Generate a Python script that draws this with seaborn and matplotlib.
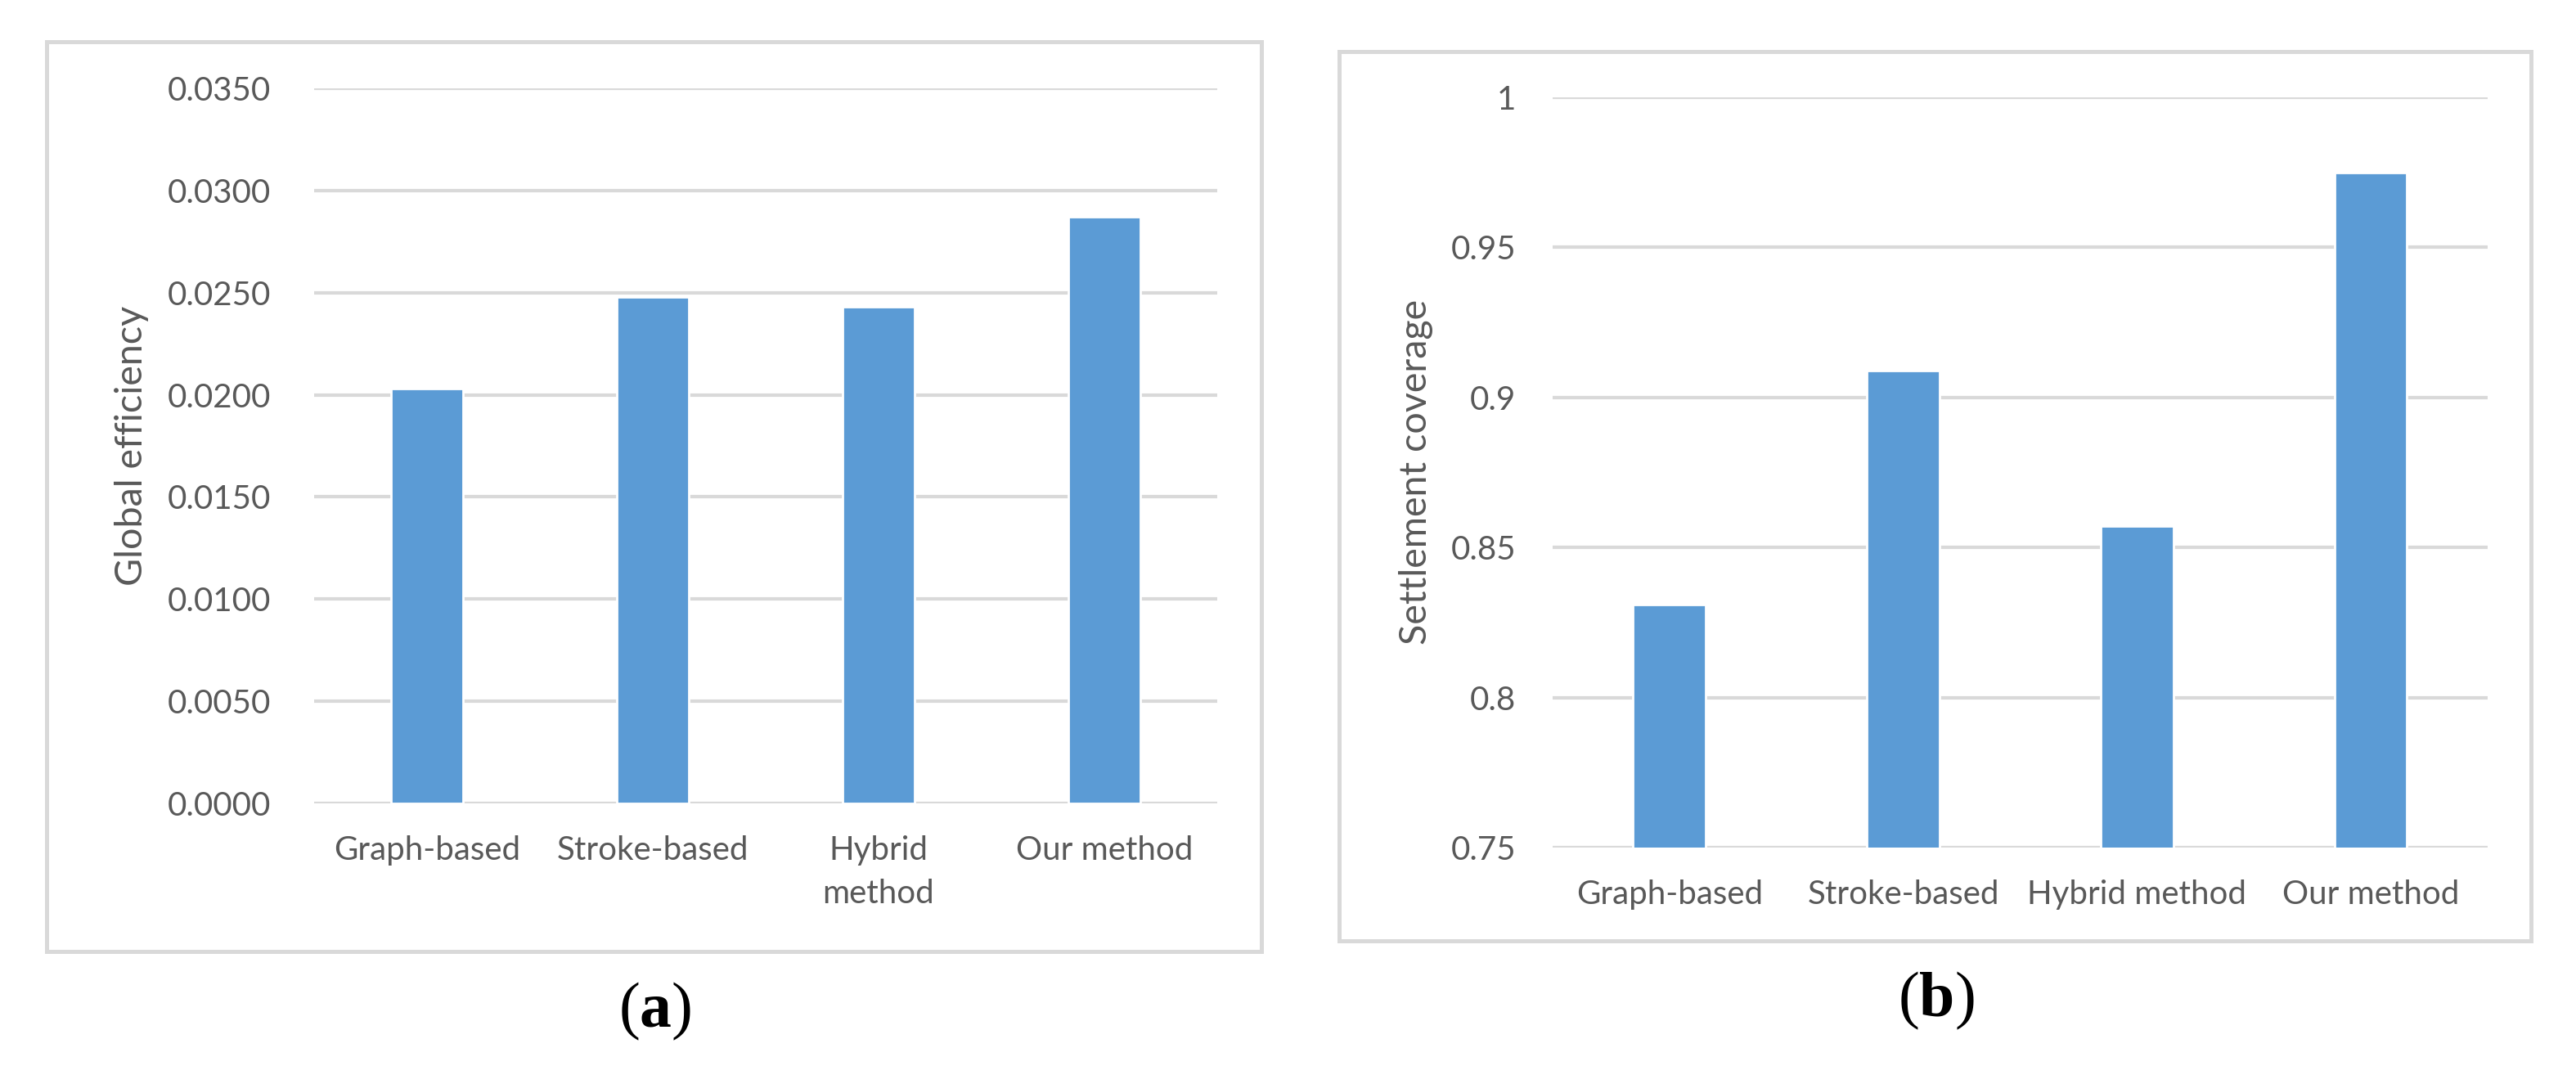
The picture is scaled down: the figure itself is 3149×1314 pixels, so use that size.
import matplotlib
matplotlib.use("Agg")
from matplotlib import pyplot as plt
from matplotlib.patches import Rectangle
import seaborn as sns
import pandas as pd

# data
methods_a = ["Graph-based", "Stroke-based", "Hybrid\nmethod", "Our method"]
global_efficiency = [0.0203, 0.0248, 0.0243, 0.0287]
ticks_a = [0.0, 0.005, 0.010, 0.015, 0.020, 0.025, 0.030, 0.035]

methods_b = ["Graph-based", "Stroke-based", "Hybrid method", "Our method"]
settlement_coverage = [0.831, 0.909, 0.857, 0.975]
ticks_b = [0.75, 0.80, 0.85, 0.90, 0.95, 1.0]
tick_labels_b = ["0.75", "0.8", "0.85", "0.9", "0.95", "1"]

bar_color = "#5B9BD5"
grid_color = "#D9D9D9"
text_color = "#595959"

sns.set_theme(style="white")
plt.rcParams['font.family'] = ['Lato', 'DejaVu Sans']
plt.rcParams['mathtext.fontset'] = 'custom'
plt.rcParams['mathtext.rm'] = 'Liberation Serif'
plt.rcParams['mathtext.bf'] = 'Liberation Serif:bold'

fig = plt.figure(figsize=(3149 / 200, 1314 / 200), dpi=200)


def style_axes(ax, ylabel, label_x, label_size, ypad):
    ax.set_xlabel("")
    ax.set_ylabel(ylabel, fontsize=label_size, color=text_color)
    ax.yaxis.set_label_coords(label_x, 0.5)
    for s in ax.spines.values():
        s.set_visible(False)
    ax.set_axisbelow(True)
    ax.yaxis.grid(True, color=grid_color, linewidth=1.5)
    ax.xaxis.grid(False)
    ax.tick_params(axis="y", length=0, pad=ypad, labelsize=14.5, labelcolor=text_color)
    ax.tick_params(axis="x", length=0, pad=14, labelsize=14.5, labelcolor=text_color)
    ax.set_facecolor("none")


def frame(x0, y0, w, h):
    fig.patches.append(Rectangle((x0, y0), w, h, transform=fig.transFigure,
                                 fill=False, edgecolor=grid_color, linewidth=1.8, zorder=0))


# panel (a)
frame(0.0181, 0.1149, 0.4716, 0.8463)
ax_a = fig.add_axes([0.1219, 0.2527, 0.3506, 0.6651])
df_a = pd.DataFrame({"method": methods_a, "value": global_efficiency})
sns.barplot(data=df_a, x="method", y="value", color=bar_color, width=0.32,
            saturation=1, ax=ax_a)
ax_a.set_ylim(0, 0.035)
ax_a.set_yticks(ticks_a)
ax_a.set_yticklabels([f"{t:.4f}" for t in ticks_a])
style_axes(ax_a, "Global efficiency", -0.183, 16.8, 19)
for lab in ax_a.get_xticklabels():
    lab.set_linespacing(1.55)
    lab.set_verticalalignment("top")

# panel (b)
frame(0.5198, 0.1248, 0.4627, 0.8272)
ax_b = fig.add_axes([0.6027, 0.2116, 0.3630, 0.6979])
df_b = pd.DataFrame({"method": methods_b, "value": settlement_coverage})
sns.barplot(data=df_b, x="method", y="value", color=bar_color, width=0.31,
            saturation=1, ax=ax_b)
ax_b.set_ylim(0.75, 1.0)
ax_b.set_yticks(ticks_b)
ax_b.set_yticklabels(tick_labels_b)
style_axes(ax_b, "Settlement coverage", -0.128, 16.8, 16)

# sub-figure captions
fig.text(0.2543, 0.059, r"($\mathbf{a}$)", fontsize=28, family="Liberation Serif",
         color="black", ha="center", va="center")
fig.text(0.7515, 0.069, r"($\mathbf{b}$)", fontsize=28, family="Liberation Serif",
         color="black", ha="center", va="center")

fig.savefig("out.png", dpi=200, facecolor="white")
